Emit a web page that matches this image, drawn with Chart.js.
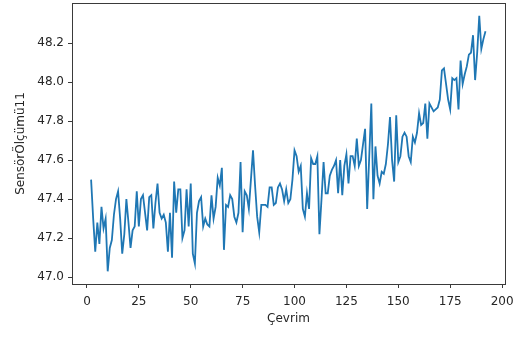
<!DOCTYPE html>
<html>
<head>
<meta charset="utf-8">
<script src="https://cdn.jsdelivr.net/npm/chart.js@4"></script>
<style>
  html, body { margin: 0; padding: 0; background: #ffffff; }
  #wrap { width: 527px; height: 340px; position: relative; }
</style>
</head>
<body>
<div id="wrap"><canvas id="c" width="527" height="340"></canvas></div>
<script>
// ---- data ----
const firstCycle = 2;
const sensorValues = [
  47.50, 47.30, 47.13, 47.28, 47.17, 47.36, 47.25, 47.30, 47.03, 47.15,
  47.19, 47.32, 47.40, 47.44, 47.30, 47.12, 47.22, 47.40, 47.28, 47.15,
  47.24, 47.26, 47.44, 47.26, 47.40, 47.42, 47.33, 47.24, 47.41, 47.42,
  47.25, 47.38, 47.48, 47.33, 47.30, 47.32, 47.28, 47.13, 47.33, 47.10,
  47.49, 47.33, 47.45, 47.45, 47.20, 47.24, 47.45, 47.26, 47.48, 47.12,
  47.07, 47.33, 47.39, 47.41, 47.26, 47.30, 47.27, 47.26, 47.42, 47.30,
  47.36, 47.51, 47.47, 47.56, 47.14, 47.37, 47.36, 47.42, 47.40, 47.31,
  47.28, 47.33, 47.59, 47.23, 47.44, 47.42, 47.35, 47.50, 47.65, 47.47,
  47.31, 47.23, 47.37, 47.37, 47.37, 47.36, 47.46, 47.46, 47.37, 47.38,
  47.46, 47.48, 47.45, 47.39, 47.45, 47.38, 47.40, 47.50, 47.65, 47.62,
  47.54, 47.57, 47.35, 47.31, 47.43, 47.35, 47.61, 47.58, 47.58, 47.62,
  47.22, 47.40, 47.59, 47.43, 47.43, 47.52, 47.55, 47.57, 47.60, 47.43,
  47.60, 47.42, 47.57, 47.63, 47.48, 47.62, 47.62, 47.57, 47.71, 47.57,
  47.60, 47.68, 47.76, 47.35, 47.62, 47.89, 47.40, 47.67, 47.52, 47.48,
  47.54, 47.53, 47.58, 47.68, 47.82, 47.60, 47.49, 47.83, 47.59, 47.62,
  47.72, 47.74, 47.72, 47.62, 47.59, 47.72, 47.69, 47.74, 47.84, 47.78,
  47.79, 47.89, 47.71, 47.89, 47.87, 47.85, 47.86, 47.87, 47.91, 48.06,
  48.07, 47.99, 47.91, 47.86, 48.02, 48.01, 48.02, 47.86, 48.11, 47.99,
  48.04, 48.08, 48.14, 48.15, 48.24, 48.01, 48.15, 48.34, 48.17, 48.22,
  48.26
];
const xTickValues = [0, 25, 50, 75, 100, 125, 150, 175, 200];
const yTickValues = [47.0, 47.2, 47.4, 47.6, 47.8, 48.0, 48.2];
const xLabel = 'Çevrim';
const yLabel = 'SensörÖlçümü11';

// ---- chart ----
const points = sensorValues.map((v, i) => ({ x: firstCycle + i, y: v }));
const FONT = { family: 'DejaVu Sans', size: 12 };
const AXIS_COLOR = '#3a3a3a';
const TEXT_COLOR = '#262626';

const framePlugin = {
  id: 'frame',
  afterDraw(chart) {
    const { ctx, chartArea: a } = chart;
    ctx.save();
    ctx.strokeStyle = AXIS_COLOR;
    ctx.lineWidth = 1;
    ctx.strokeRect(Math.round(a.left) + 0.5, Math.round(a.top) + 0.5,
                   Math.round(a.right - a.left), Math.round(a.bottom - a.top));
    ctx.restore();
  }
};

new Chart(document.getElementById('c'), {
  type: 'line',
  data: {
    datasets: [{
      data: points,
      borderColor: '#1f77b4',
      borderWidth: 1.8,
      pointRadius: 0,
      tension: 0,
      fill: false
    }]
  },
  options: {
    responsive: false,
    animation: false,
    devicePixelRatio: 1,
    layout: { padding: { left: 0, right: 22, top: 3, bottom: 0 } },
    plugins: { legend: { display: false }, tooltip: { enabled: false } },
    scales: {
      x: {
        type: 'linear',
        min: -7.2,
        max: 201.4,
        afterBuildTicks: (s) => { s.ticks = xTickValues.map(v => ({ value: v })); },
        afterFit: (s) => { s.height = 56; s.paddingLeft = 0; s.paddingRight = 0; },
        ticks: { font: FONT, color: TEXT_COLOR, padding: 7, maxRotation: 0, autoSkip: false },
        grid: { display: true, drawOnChartArea: false, drawTicks: true, tickLength: 4, color: AXIS_COLOR },
        border: { display: true, color: AXIS_COLOR },
        title: { display: true, text: xLabel, font: FONT, color: TEXT_COLOR, padding: { top: 0, bottom: 14 } }
      },
      y: {
        type: 'linear',
        min: 46.965,
        max: 48.405,
        afterBuildTicks: (s) => { s.ticks = yTickValues.map(v => ({ value: v })); },
        afterFit: (s) => { s.width = 72; s.paddingTop = 0; s.paddingBottom = 0; },
        ticks: { font: FONT, color: TEXT_COLOR, padding: 4, autoSkip: false,
                 callback: (v) => Number(v).toFixed(1) },
        grid: { display: true, drawOnChartArea: false, drawTicks: true, tickLength: 4, color: AXIS_COLOR },
        border: { display: true, color: AXIS_COLOR },
        title: { display: true, text: yLabel, font: FONT, color: TEXT_COLOR, padding: { top: 14, bottom: 0 } }
      }
    }
  },
  plugins: [framePlugin]
});
</script>
</body>
</html>
